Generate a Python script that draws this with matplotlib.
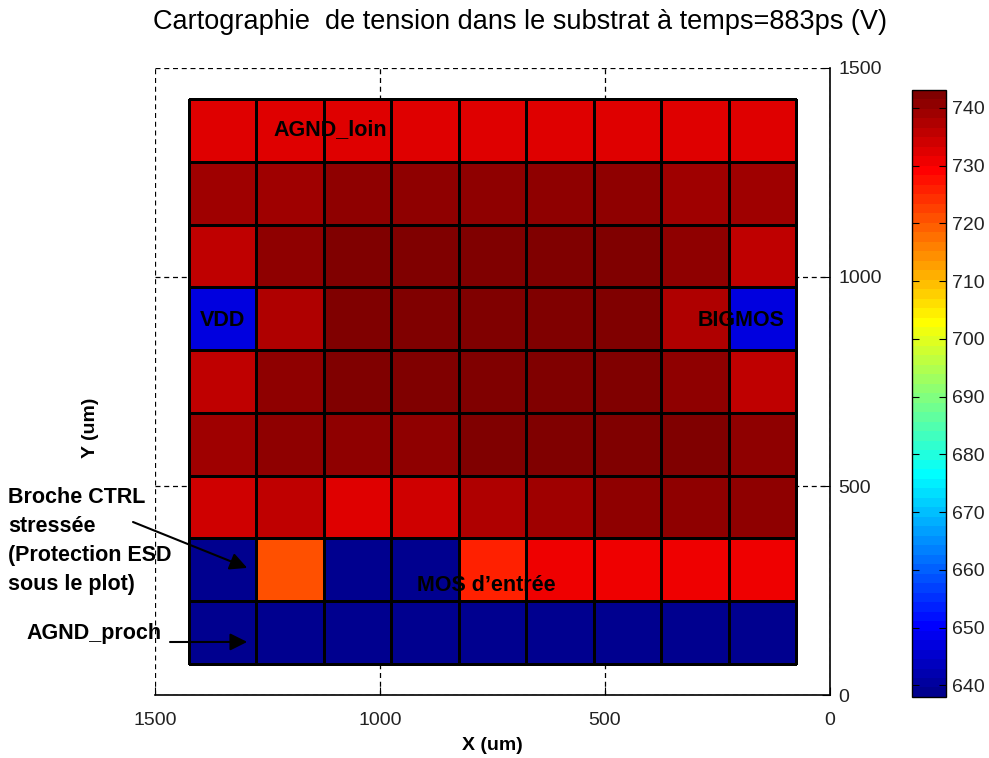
# Cartographie de tension dans le substrat (grille 9x9, echelle jet)
import numpy as np
import matplotlib
matplotlib.use('Agg')
import matplotlib.pyplot as plt
from matplotlib.colors import ListedColormap

plt.rcParams['font.family'] = ['Liberation Sans', 'DejaVu Sans']

# Positions des centres des plots (um), colonnes de gauche a droite telles qu'affichees
x_um = [1350, 1200, 1050, 900, 750, 600, 450, 300, 150]
y_um = [1350, 1200, 1050, 900, 750, 600, 450, 300, 150]   # lignes de haut en bas

ligne_1 = [732.4, 732.4, 732.4, 732.4, 732.4, 732.4, 732.4, 732.4, 732.4]
ligne_2 = [739.0, 739.0, 740.7, 740.7, 740.7, 740.7, 740.7, 739.0, 739.0]
ligne_3 = [735.7, 740.7, 742.3, 742.3, 742.3, 742.3, 742.3, 740.7, 735.7]
ligne_4 = [647.0, 737.4, 742.3, 742.3, 742.3, 742.3, 742.3, 737.4, 647.0]
ligne_5 = [735.7, 740.7, 742.3, 742.3, 742.3, 742.3, 742.3, 740.7, 735.7]
ligne_6 = [739.0, 740.7, 740.7, 740.7, 742.3, 742.3, 742.3, 742.3, 740.7]
ligne_7 = [734.1, 735.7, 732.4, 734.1, 737.4, 739.0, 740.7, 740.7, 740.7]
ligne_8 = [638.8, 720.9, 638.8, 638.8, 725.9, 730.8, 730.8, 730.8, 730.8]
ligne_9 = [638.8, 638.8, 638.8, 638.8, 638.8, 638.8, 638.8, 638.8, 638.8]

v_min, v_max = 638.0, 743.1
ticks_cb = [640, 650, 660, 670, 680, 690, 700, 710, 720, 730, 740]


def jet_matlab(m=64):
    # colormap jet de MATLAB (64 niveaux)
    n = int(np.ceil(m / 4))
    u = np.r_[np.arange(1, n + 1) / n, np.ones(n - 1), np.arange(n, 0, -1) / n]
    g = int(np.ceil(n / 2)) - int(m % 4 == 1) + np.arange(1, len(u) + 1)
    cols = np.zeros((m, 3))
    for c, idx in ((0, g + n), (1, g), (2, g - n)):
        ok = (idx >= 1) & (idx <= m)
        cols[idx[ok] - 1, c] = u[ok]
    return ListedColormap(cols)


V = np.array([ligne_1, ligne_2, ligne_3, ligne_4, ligne_5,
              ligne_6, ligne_7, ligne_8, ligne_9])
xs = np.array(x_um)
ys = np.array(y_um)

fig = plt.figure(figsize=(9.89, 7.58), dpi=100)
ax = fig.add_axes([0.1567, 0.0831, 0.6825, 0.8272])

mesh = ax.pcolormesh(xs[::-1], ys[::-1], V[::-1, ::-1], shading='nearest',
                     cmap=jet_matlab(64), vmin=v_min, vmax=v_max,
                     edgecolors='black', linewidth=1.0)

ax.set_xlim(1500, 0)
ax.set_ylim(0, 1500)
ax.set_xticks([1500, 1000, 500, 0])
ax.set_yticks([0, 500, 1000, 1500])
ax.set_axisbelow(True)
ax.grid(True, linestyle=(0, (4, 3)), color='black', linewidth=0.9)
ax.yaxis.tick_right()
ax.tick_params(direction='in', length=6, labelsize=14, colors='black',
               labelcolor='#222222', pad=6)
ax.tick_params(axis='x', pad=12)
ax.spines['left'].set_visible(False)
ax.spines['top'].set_visible(False)
ax.spines['right'].set_linewidth(1.2)
ax.spines['bottom'].set_linewidth(1.2)

ax.set_xlabel('X (um)', fontsize=14, fontweight='bold', labelpad=6)
ax.set_ylabel('Y (um)', fontsize=14, fontweight='bold')
ax.yaxis.set_label_position('left')
ax.yaxis.set_label_coords(-0.083, 0.426)

fig.text(0.526, 0.971, 'Cartographie  de tension dans le substrat à temps=883ps (V)',
         ha='center', va='center', fontsize=19.5)

# etiquettes dans la carte
fs = 15.5
ax.text(1110, 1352, 'AGND_loin', ha='center', va='center', fontsize=fs, fontweight='bold')
ax.text(1349, 897, 'VDD', ha='center', va='center', fontsize=fs, fontweight='bold')
ax.text(198, 897, 'BIGMOS', ha='center', va='center', fontsize=fs, fontweight='bold')
ax.text(764, 263, 'MOS d’entrée', ha='center', va='center', fontsize=fs, fontweight='bold')

fig.text(8 / 989, 1 - 487 / 758, 'Broche CTRL\nstressée\n(Protection ESD\nsous le plot)',
         ha='left', va='top', fontsize=fs, fontweight='bold', linespacing=1.5)
fig.text(26 / 989, 1 - 633 / 758, 'AGND_proch', ha='left', va='center',
         fontsize=fs, fontweight='bold')

fleche = dict(arrowstyle='-|>', color='black', lw=1.5, mutation_scale=26,
              shrinkA=0, shrinkB=0)
ax.annotate('', xy=(1295, 304), xytext=(133 / 989, 1 - 522 / 758),
            textcoords='figure fraction', arrowprops=fleche, annotation_clip=False)
ax.annotate('', xy=(1295, 127), xytext=(170 / 989, 1 - 642 / 758),
            textcoords='figure fraction', arrowprops=fleche, annotation_clip=False)

# barre de couleur
cax = fig.add_axes([0.9221, 0.0805, 0.0344, 0.801])
cb = fig.colorbar(mesh, cax=cax, ticks=ticks_cb)
cb.ax.tick_params(direction='in', left=True, right=True, length=5,
                  labelsize=14, labelcolor='#222222', pad=4)
cb.outline.set_linewidth(1.0)

fig.savefig('out.png', dpi=100)
plt.close()
